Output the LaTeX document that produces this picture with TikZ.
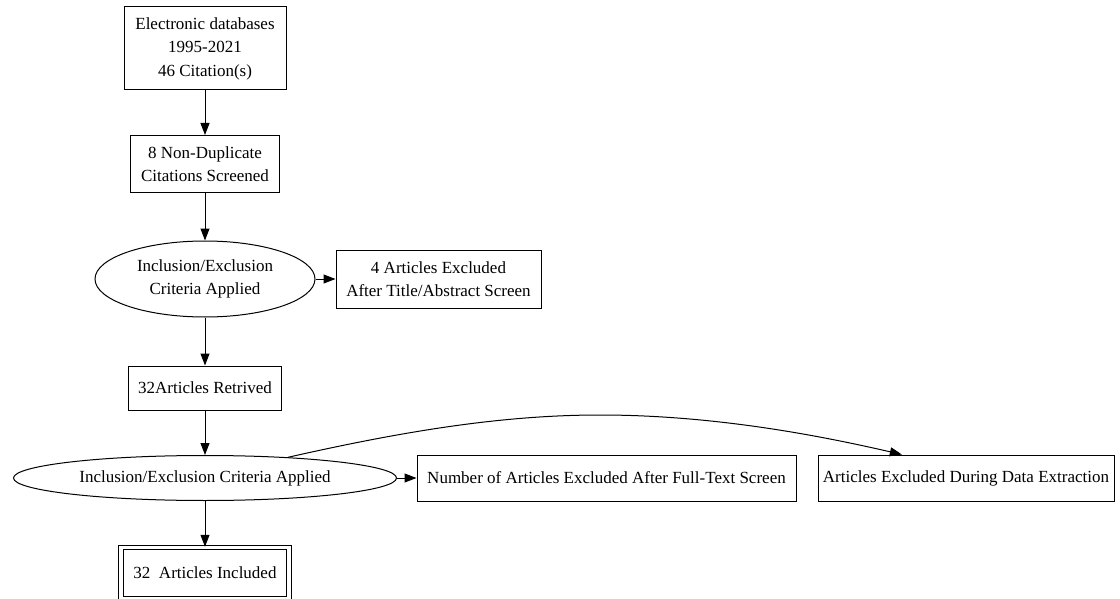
\documentclass[tikz,border=0pt]{standalone}
\usepackage{fontspec}
\setmainfont{Liberation Serif}
\usepackage{tikz}
\usetikzlibrary{arrows.meta, positioning, shapes.geometric, calc}

\begin{document}
\begin{tikzpicture}[x=1pt, y=-1pt,
    every node/.style={font=\fontsize{17}{23.5}\selectfont, align=center, inner sep=0pt},
    stepbox/.style={draw, rectangle, line width=1pt},
    criteria/.style={draw, ellipse, line width=1pt},
    flow/.style={-{Triangle[length=12pt, width=9pt]}, line width=1pt}]
    \useasboundingbox (0,0) rectangle (1120,599);

    \node[stepbox, minimum width=162, minimum height=83] (db) at (205,48.5) {Electronic databases\\1995-2021\\46 Citation(s)};
    \node[stepbox, minimum width=149, minimum height=57] (screened) at (205,164) {8 Non-Duplicate\\Citations Screened};
    \node[criteria, minimum width=220, minimum height=76] (crit1) at (205,279) {Inclusion/Exclusion\\Criteria Applied};
    \node[stepbox, minimum width=205, minimum height=58] (excl1) at (438.5,279) {4 Articles Excluded\\After Title/Abstract Screen};
    \node[stepbox, minimum width=153, minimum height=44] (retrieved) at (205,388) {32Articles Retrived};
    \node[criteria, minimum width=383, minimum height=45] (crit2) at (205,478) {Inclusion/Exclusion Criteria Applied};
    \node[stepbox, minimum width=379, minimum height=46] (excl2) at (606.5,478) {Number of Articles Excluded After Full-Text Screen};
    \node[stepbox, minimum width=296, minimum height=46] (extract) at (966,478) {Articles Excluded During Data Extraction};
    \node[stepbox, double, double distance=3.5pt, minimum width=168, minimum height=51.5] (included) at (205,573) {32\ \ Articles Included};

    \coordinate (extract top) at ($(extract.north west)!0.284!(extract.north east)$);

    \draw[flow] (db) -- (screened);
    \draw[flow] (screened) -- (crit1);
    \draw[flow] (crit1) -- (excl1);
    \draw[flow] (crit1) -- (retrieved);
    \draw[flow] (retrieved) -- (crit2);
    \draw[flow] (crit2) -- (excl2);
    \draw[flow] (crit2) -- (included);
    % data extraction branch
    \draw[flow] (crit2.14) .. controls (400,432) and (500,415) .. (600,415)
        .. controls (720,415) and (830,438) .. (extract top);
\end{tikzpicture}
\end{document}
